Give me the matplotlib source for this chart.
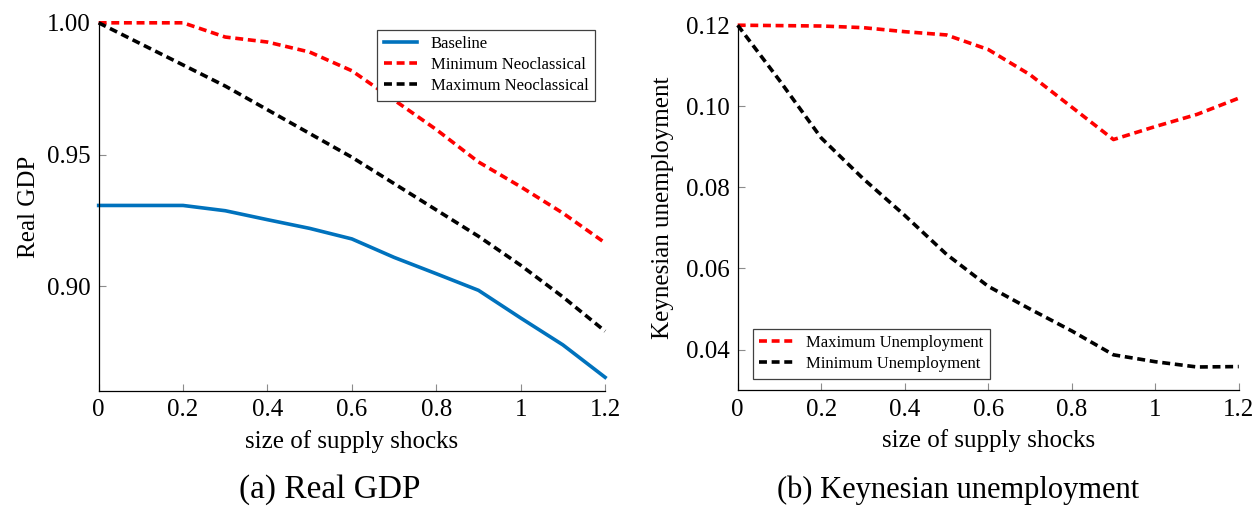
import matplotlib
matplotlib.use("Agg")
import matplotlib.pyplot as plt

plt.rcParams["font.family"] = ["Liberation Serif", "DejaVu Serif"]

shock = [0.0, 0.1, 0.2, 0.3, 0.4, 0.5, 0.6, 0.7, 0.8, 0.9, 1.0, 1.1, 1.2]

gdp_baseline = [0.9307, 0.9307, 0.9307, 0.9287, 0.9253, 0.9220, 0.9180,
                0.9110, 0.9048, 0.8985, 0.8880, 0.8778, 0.8655]
gdp_min_neo = [1.0, 1.0, 1.0, 0.9946, 0.9927, 0.9889, 0.9818,
               0.9707, 0.9595, 0.9472, 0.9378, 0.9278, 0.9165]
gdp_max_neo = [1.0, 0.992, 0.984, 0.976, 0.967, 0.958, 0.949,
               0.939, 0.929, 0.919, 0.908, 0.896, 0.883]

unemp_max = [0.12, 0.1199, 0.1198, 0.1194, 0.1184, 0.1176, 0.1140,
             0.1078, 0.0998, 0.0918, 0.0950, 0.0980, 0.1020]
unemp_min = [0.12, 0.1064, 0.0922, 0.0822, 0.0731, 0.0635, 0.0556,
             0.0500, 0.0446, 0.0387, 0.0370, 0.0357, 0.0358]

xticks = [0, 0.2, 0.4, 0.6, 0.8, 1.0, 1.2]
xtick_labels = ["0", "0.2", "0.4", "0.6", "0.8", "1", "1.2"]
gdp_ticks = [0.90, 0.95, 1.00]
unemp_ticks = [0.04, 0.06, 0.08, 0.10, 0.12]

BLUE = "#0072BD"
DASH = (0, (2.2, 1.3))
LW = 2.6


def style(ax):
    for s in ("top", "right"):
        ax.spines[s].set_visible(False)
    for s in ("left", "bottom"):
        ax.spines[s].set_linewidth(0.9)
    ax.tick_params(direction="in", length=5, width=0.8, color="0.55",
                   labelsize=18, pad=6)
    ax.set_xlim(0, 1.2)
    ax.set_xticks(xticks)
    ax.set_xticklabels(xtick_labels)
    ax.set_xlabel("size of supply shocks", fontsize=18, labelpad=6)


fig = plt.figure(figsize=(12.52, 5.08), dpi=100)

ax1 = fig.add_axes([0.0788, 0.2303, 0.4045, 0.7248])
ax1.plot(shock, gdp_baseline, color=BLUE, lw=LW, label="Baseline", clip_on=False)
ax1.plot(shock, gdp_min_neo, color="red", lw=LW, ls=DASH, label="Minimum Neoclassical",
         clip_on=False)
ax1.plot(shock, gdp_max_neo, color="black", lw=LW, ls=DASH, label="Maximum Neoclassical",
         clip_on=False)
style(ax1)
ax1.set_ylim(0.8603, 1.0)
ax1.set_yticks(gdp_ticks)
ax1.set_yticklabels([f"{t:.2f}" for t in gdp_ticks])
ax1.set_ylabel("Real GDP", fontsize=18, labelpad=5)
leg = ax1.legend(loc="upper right", bbox_to_anchor=(0.980, 0.9815), borderaxespad=0,
                 fontsize=12, handlelength=2.0, labelspacing=0.3, fancybox=False,
                 edgecolor="0.25", framealpha=1)
leg.get_frame().set_linewidth(0.9)

ax2 = fig.add_axes([0.5892, 0.2313, 0.4002, 0.7191])
ax2.plot(shock, unemp_max, color="red", lw=LW, ls=DASH, label="Maximum Unemployment",
         clip_on=False)
ax2.plot(shock, unemp_min, color="black", lw=LW, ls=DASH, label="Minimum Unemployment",
         clip_on=False)
style(ax2)
ax2.set_ylim(0.0299, 0.12)
ax2.set_yticks(unemp_ticks)
ax2.set_yticklabels([f"{t:.2f}" for t in unemp_ticks])
ax2.set_ylabel("Keynesian unemployment", fontsize=18, labelpad=8)
leg = ax2.legend(loc="lower left", bbox_to_anchor=(0.030, 0.0315), borderaxespad=0,
                 fontsize=12, handlelength=2.0, labelspacing=0.3, fancybox=False,
                 edgecolor="0.25", framealpha=1)
leg.get_frame().set_linewidth(0.9)

fig.text(330 / 1252, 1 - 490 / 508, "(a) Real GDP", fontsize=24, ha="center", va="center")
fig.text(958 / 1252, 1 - 490 / 508, "(b) Keynesian unemployment", fontsize=22,
         ha="center", va="center")

fig.savefig("out.png", dpi=100)
